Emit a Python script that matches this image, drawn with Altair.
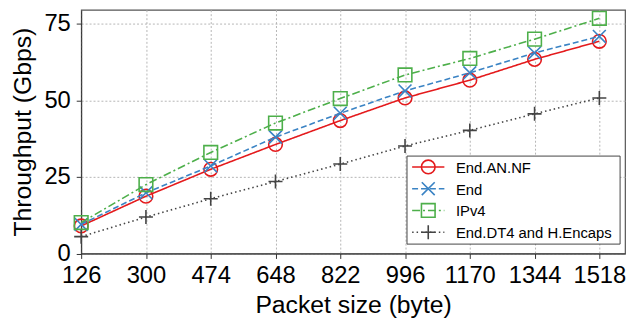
import altair as alt
import pandas as pd

# ---- data ----
packet_sizes = [126, 300, 474, 648, 822, 996, 1170, 1344, 1518]
end_an_nf = [9.0, 18.7, 27.5, 35.6, 43.4, 50.8, 56.6, 63.4, 69.3]
end_vals = [9.5, 19.8, 28.6, 38.0, 45.8, 53.1, 59.0, 65.5, 70.9]
ipv4 = [10.1, 22.5, 33.0, 42.6, 50.6, 58.3, 63.7, 70.0, 76.8]
end_dt4 = [5.5, 11.9, 17.9, 23.5, 29.2, 35.1, 40.2, 45.6, 50.8]
y_ticks = [0, 25, 50, 75]

series_names = ["End.AN.NF", "End", "IPv4", "End.DT4 and H.Encaps"]
series_values = [end_an_nf, end_vals, ipv4, end_dt4]

# ---- styles ----
colors = ["#e41a1c", "#3a83c4", "#4daf4a", "#444444"]
dashes = [[1, 0], [6, 3], [8, 3, 2, 3], [1.5, 3]]
shapes = ["circle", "M-1,-1L1,1M-1,1L1,-1", "square", "M-1,0L1,0M0,-1L0,1"]
sizes = [190, 170, 190, 200]
FONT = "Liberation Sans"

W, H = 550, 246.5

x_enc = alt.X(
    "size:Q",
    scale=alt.Scale(domain=[126, 1587], nice=False, zero=False),
    axis=alt.Axis(values=packet_sizes, format="d", title="Packet size (byte)", labelFontSize=24,
                  titleFontSize=25, titleFontWeight="normal", tickSize=5,
                  labelPadding=5, titlePadding=6, grid=True, gridDash=[2, 2],
                  gridColor="#b5b5b5", labelFlush=False, labelOverlap=False,
                  domainColor="#333333", tickColor="#333333", labelColor="#000000",
                  titleColor="#000000"),
)
y_enc = alt.Y(
    "value:Q",
    scale=alt.Scale(domain=[0, 79.6], nice=False),
    axis=alt.Axis(values=y_ticks, title="Throughput (Gbps)", labelFontSize=24,
                  titleFontSize=25, titleFontWeight="normal", tickSize=5,
                  labelPadding=6, titlePadding=9, grid=True, gridDash=[2, 2],
                  gridColor="#b5b5b5", labelFlush=False,
                  domainColor="#333333", tickColor="#333333", labelColor="#000000",
                  titleColor="#000000"),
)

layers = []
for name, vals, c, d, s, sz in zip(series_names, series_values, colors, dashes, shapes, sizes):
    df = pd.DataFrame({"size": packet_sizes, "value": vals, "series": name})
    base = alt.Chart(df)
    layers.append(base.mark_line(color=c, strokeWidth=1.6, strokeDash=d).encode(x=x_enc, y=y_enc))
    layers.append(base.mark_point(shape=s, size=sz, filled=False, color=c, strokeWidth=1.6,
                                  opacity=1).encode(x=x_enc, y=y_enc))

# ---- manual legend (matplotlib style: line + marker) ----
one = alt.Chart(pd.DataFrame({"a": [0]}))
box_x, box_x2, box_y, box_y2 = 329.5, 545, 148, 237
layers.append(one.mark_rect(fill="white", stroke="#444444", strokeWidth=1).encode(
    x=alt.value(box_x), x2=alt.value(box_x2), y=alt.value(box_y), y2=alt.value(box_y2)))
row_y = [159, 181, 203, 225]
for name, c, d, s, sz, ry in zip(series_names, colors, dashes, shapes, sizes, row_y):
    layers.append(one.mark_rule(color=c, strokeWidth=1.6, strokeDash=d).encode(
        x=alt.value(334.7), x2=alt.value(367.3), y=alt.value(ry)))
    layers.append(one.mark_point(shape=s, size=sz, filled=False, color=c, strokeWidth=1.6,
                                 opacity=1).encode(x=alt.value(351), y=alt.value(ry)))
    layers.append(one.mark_text(text=name, align="left", baseline="middle", fontSize=15,
                                font=FONT, color="#000000").encode(
        x=alt.value(379), y=alt.value(ry + 1)))

chart = alt.layer(*layers).properties(
    width=W, height=H,
    autosize=alt.AutoSizeParams(type="none"),
    padding={"left": 74, "top": 0, "right": 3, "bottom": 66},
).configure(font=FONT).configure_view(stroke="#555555", strokeWidth=1.2)

chart.save("out.html", embed_options={"renderer": "svg", "actions": False})
